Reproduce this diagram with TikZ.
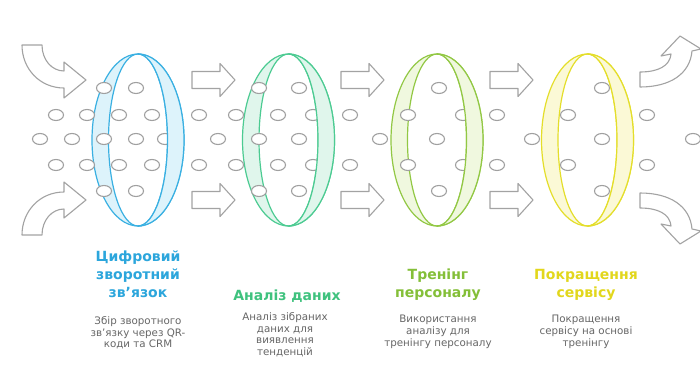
\documentclass[tikz,border=0pt]{standalone}
\usepackage{fontspec}
\setmainfont{DejaVu Sans}
\definecolor{cblue}{HTML}{3AB0E2}
\definecolor{fblue}{HTML}{DDF3FB}
\definecolor{cgreen}{HTML}{4CCB92}
\definecolor{fgreen}{HTML}{E0F6EC}
\definecolor{clime}{HTML}{92C844}
\definecolor{flime}{HTML}{F0F8DF}
\definecolor{cyel}{HTML}{E4DE2A}
\definecolor{fyel}{HTML}{FBF9D6}
\definecolor{tblue}{HTML}{2CA6DC}
\definecolor{tgreen}{HTML}{3FC27E}
\definecolor{tlime}{HTML}{84BF38}
\definecolor{tyel}{HTML}{E2D71C}
\definecolor{dotgray}{HTML}{A0A0A0}
\definecolor{arrgray}{HTML}{A3A3A3}
\definecolor{bodygray}{HTML}{666666}
\tikzset{
  dot/.style={draw=dotgray, fill=white, line width=1.1pt},
  blockarrow/.style={draw=arrgray, fill=white, line width=1.1pt, line join=round},
  ringline/.style={line width=1.2pt},
  title/.style={font=\bfseries\fontsize{14}{18}\selectfont, align=center, anchor=north, inner sep=0pt},
  body/.style={text=bodygray, font=\fontsize{10.3}{11.8}\selectfont, align=center, anchor=north, inner sep=0pt},
}
% #1 centre x, #2 stroke, #3 fill
\newcommand\ringbase[3]{%
  \fill[#3, even odd rule] (#1,140) ellipse [x radius=46, y radius=86] (#1,140) ellipse [x radius=29.5, y radius=86];
  \draw[#2, ringline] (#1,140) ellipse [x radius=46, y radius=86];
  \draw[#2, ringline] (#1,140) ellipse [x radius=29.5, y radius=86];
}
\newcommand\ringfront[3]{%
  \begin{scope}
    \clip (#1,40) rectangle (#1+60,240);
    \fill[#3, even odd rule] (#1,140) ellipse [x radius=46, y radius=86] (#1,140) ellipse [x radius=29.5, y radius=86];
    \draw[#2, ringline] (#1,140) ellipse [x radius=46, y radius=86];
    \draw[#2, ringline] (#1,140) ellipse [x radius=29.5, y radius=86];
  \end{scope}
}
\newcommand\sarrow[2]{%
  \draw[blockarrow] (#1,#2-8.5) -- (#1+28,#2-8.5) -- (#1+28,#2-16.5) -- (#1+43,#2) -- (#1+28,#2+16.5) -- (#1+28,#2+8.5) -- (#1,#2+8.5) -- cycle;
}
\begin{document}
\begin{tikzpicture}[x=1pt,y=-1pt]
\fill[white] (0,0) rectangle (700,369);
\useasboundingbox (0,0) rectangle (700,369);

% rings (back parts)
\ringbase{138}{cblue}{fblue}
\ringbase{288.5}{cgreen}{fgreen}
\ringbase{437}{clime}{flime}
\ringbase{587.5}{cyel}{fyel}

% dots
\foreach \x/\y in {104/88,136/88,259/88,299/88,439/88,602/88,
  56/115,87/115,119/115,152/115,199/115,236/115,278/115,313/115,350/115,408/115,463/115,497/115,568/115,647/115,
  40/139,72/139,104/139,136/139,165/139,218/139,259/139,299/139,380/139,437/139,532/139,602/139,693/139,
  56/165,87/165,119/165,152/165,199/165,236/165,278/165,313/165,350/165,408/165,463/165,497/165,568/165,647/165,
  104/191,136/191,259/191,299/191,439/191,602/191}
  \draw[dot] (\x,\y) ellipse [x radius=7.5, y radius=5.5];

% rings (front halves)
\ringfront{138}{cblue}{fblue}
\ringfront{288.5}{cgreen}{fgreen}
\ringfront{437}{clime}{flime}
\ringfront{587.5}{cyel}{fyel}

% straight arrows
\sarrow{192}{80}
\sarrow{192}{200}
\sarrow{341}{80}
\sarrow{341}{200}
\sarrow{490}{80}
\sarrow{490}{200}

% curved arrows, left
\draw[blockarrow] (22,45) -- (42,45) .. controls (42,60) and (52,71) .. (64,71)
  -- (64,62) -- (86,80) -- (64,98) -- (64,88) .. controls (40,88) and (22,69) .. (22,45) -- cycle;
\draw[blockarrow] (22,235) -- (42,235) .. controls (42,220) and (52,209) .. (64,209)
  -- (64,218) -- (86,200) -- (64,182) -- (64,192) .. controls (40,192) and (22,211) .. (22,235) -- cycle;

% curved arrows, right
\draw[blockarrow] (640,72) .. controls (658,72) and (670,66) .. (671,54)
  -- (661,56) -- (680,36) -- (701,49) -- (692,51) .. controls (690,74) and (670,87) .. (640,87) -- cycle;
\draw[blockarrow] (640,208) .. controls (658,208) and (670,214) .. (671,226)
  -- (661,224) -- (680,244) -- (701,231) -- (692,229) .. controls (690,206) and (670,193) .. (640,193) -- cycle;

% titles
\node[title, text=tblue] (t1) at (138,251) {Цифровий\\зворотний\\зв'язок};
\node[title, text=tgreen] (t2) at (287,290) {Аналіз даних};
\node[title, text=tlime] (t3) at (438,269) {Тренінг\\персоналу};
\node[title, text=tyel] (t4) at (586,269) {Покращення\\сервісу};

% bodies
\node[body] (b1) at (138,316) {Збір зворотного\\зв'язку через QR-\\коди та CRM};
\node[body] (b2) at (285,312) {Аналіз зібраних\\даних для\\виявлення\\тенденцій};
\node[body] (b3) at (438,315) {Використання\\аналізу для\\тренінгу персоналу};
\node[body] (b4) at (586,315) {Покращення\\сервісу на основі\\тренінгу};
\end{tikzpicture}
\end{document}
